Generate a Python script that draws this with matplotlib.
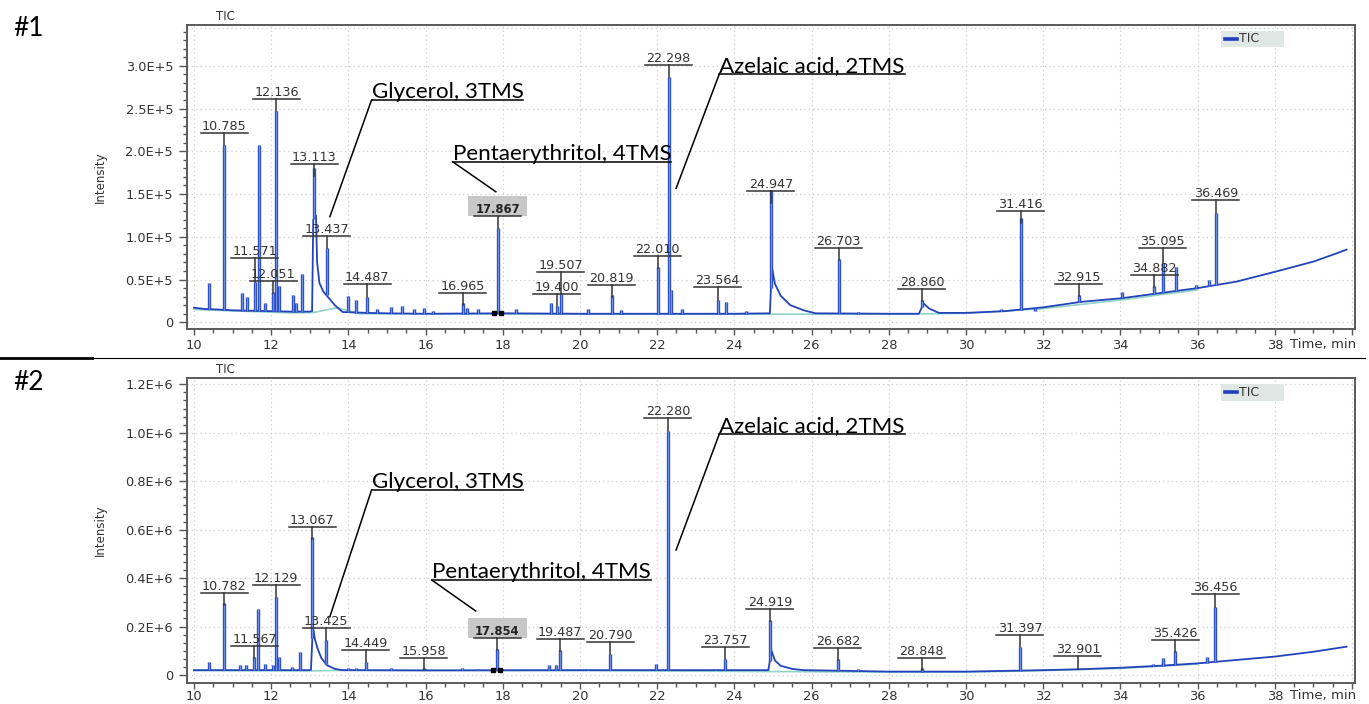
import numpy as np
import matplotlib
matplotlib.use("Agg")
import matplotlib.pyplot as plt
from matplotlib.ticker import MultipleLocator, FuncFormatter
from matplotlib.patches import Rectangle
from matplotlib.lines import Line2D

# ---------------- sample #1 ----------------
# background trace (incl. peak tails), time [min] / intensity
trace1_t = [10.0, 10.3, 10.6, 11.0, 11.5, 12.0, 12.5, 13.0, 13.06, 13.09, 13.16, 13.19,
            13.25, 13.35, 13.5, 13.65, 13.85, 14.5, 15.0, 16.0, 18.0, 20.0, 22.0, 24.0,
            24.92, 24.97, 25.05, 25.2, 25.45, 25.8, 26.1, 28.0, 28.78, 28.9, 29.05, 29.3,
            30.0, 31.0, 32.0, 33.0, 34.0, 35.0, 36.0, 37.0, 38.0, 39.0, 39.5, 39.86]
trace1_y = [17000, 15500, 15000, 14000, 13500, 13000, 12500, 12500, 13000, 120000, 125000, 70000,
            46000, 36000, 28000, 20000, 12000, 11000, 10500, 10000, 10500, 10000, 10000, 10000,
            10500, 65000, 45000, 31000, 20000, 14000, 10500, 10000, 10000, 22000, 16000, 11000,
            11000, 13000, 17500, 24000, 28000, 34000, 40000, 47500, 59000, 71000, 79000, 85000]
# integration baseline
base1_t = [10.0, 12.5, 13.1, 13.7, 14.3, 20.0, 28.0, 30.0, 32.0, 34.0, 36.0]
base1_y = [15000, 11000, 11500, 17000, 10000, 9500, 9500, 10500, 16000, 26000, 38000]
# peak apexes
peak1_t = [10.38, 10.785, 11.25, 11.38, 11.571, 11.69, 11.85, 12.051, 12.136, 12.21, 12.57,
           12.63, 12.79, 13.113, 13.437, 13.98, 14.2, 14.487, 14.75, 15.1, 15.4, 15.7, 15.95,
           16.2, 16.965, 17.07, 17.35, 17.867, 18.35, 19.25, 19.4, 19.507, 20.2, 20.819,
           21.05, 22.01, 22.298, 22.36, 22.65, 23.564, 23.78, 24.3, 24.947, 26.703, 27.2,
           28.86, 30.9, 31.416, 31.8, 32.915, 34.05, 34.5, 34.882, 35.095, 35.43, 35.95,
           36.3, 36.469]
peak1_h = [45500, 207000, 34000, 30000, 47000, 207000, 22000, 35000, 247000, 42000, 32000,
           22000, 57000, 180000, 87000, 31000, 26000, 30000, 16000, 18000, 19000, 16000, 17000,
           13000, 22000, 17000, 16000, 110000, 15000, 23000, 19000, 34000, 16000, 32000,
           14000, 65000, 287000, 38000, 15000, 26000, 24000, 13500, 155000, 74000, 12000,
           26000, 15000, 122000, 13500, 32000, 36000, 31000, 43000, 69000, 65000, 44000,
           50000, 128000]
label1_t = [10.785, 11.571, 12.051, 12.136, 13.113, 13.437, 14.487, 16.965, 17.867, 19.4,
            19.507, 20.819, 22.01, 22.298, 23.564, 24.947, 26.703, 28.86, 31.416, 32.915,
            34.882, 35.095, 36.469]
marks1_t = [17.77, 17.96]
hilite1 = 17.867
names1 = ["Glycerol, 3TMS", "Pentaerythritol, 4TMS", "Azelaic acid, 2TMS"]

# ---------------- sample #2 ----------------
trace2_t = [10.0, 11.0, 12.0, 13.0, 13.03, 13.08, 13.13, 13.2, 13.3, 13.45, 13.65, 13.85,
            16.0, 20.0, 22.0, 24.0, 24.88, 24.96, 25.05, 25.2, 25.5, 25.8, 27.0, 28.0,
            30.0, 31.0, 32.0, 33.0, 34.0, 35.0, 36.0, 37.0, 38.0, 39.0, 39.86]
trace2_y = [20000, 20000, 20000, 20000, 21000, 200000, 150000, 110000, 70000, 40000, 25000, 20000,
            19000, 20000, 20000, 20000, 20000, 100000, 60000, 38000, 25000, 20000, 17000, 14000,
            14000, 17000, 20000, 24000, 30000, 38000, 48000, 62000, 76000, 96000, 117000]
base2_t = [10.0, 13.0, 13.8, 20.0, 28.0, 30.0, 32.0, 34.0, 36.0]
base2_y = [18000, 17000, 19000, 18000, 12000, 12000, 18000, 27000, 45000]
peak2_t = [10.38, 10.782, 11.2, 11.35, 11.567, 11.67, 11.85, 12.05, 12.129, 12.2, 12.55,
           12.75, 13.067, 13.425, 13.98, 14.2, 14.449, 15.1, 15.958, 16.95, 17.35, 17.854,
           18.35, 19.2, 19.38, 19.487, 20.2, 20.79, 21.97, 22.28, 22.65, 23.5, 23.757,
           24.919, 26.682, 27.2, 28.848, 31.397, 32.901, 34.05, 34.85, 35.1, 35.426, 36.25,
           36.456]
peak2_h = [55000, 296000, 40000, 40000, 75000, 272000, 45000, 40000, 320000, 75000, 35000,
           96000, 570000, 144000, 30000, 30000, 52000, 30000, 27000, 28000, 26000, 106000,
           22000, 43000, 40000, 103000, 25000, 87000, 45000, 1007000, 22000, 25000, 66000,
           227000, 66000, 25000, 28000, 117000, 25000, 35000, 44000, 71000, 99000, 75000,
           280000]
label2_t = [10.782, 11.567, 12.129, 13.067, 13.425, 14.449, 15.958, 17.854, 19.487, 20.79,
            22.28, 23.757, 24.919, 26.682, 28.848, 31.397, 32.901, 35.426, 36.456]
marks2_t = [17.75, 17.93]
hilite2 = 17.854
names2 = ["Glycerol, 3TMS", "Pentaerythritol, 4TMS", "Azelaic acid, 2TMS"]

# ---------------- layout (label bar heights, callouts) ----------------
label1_y = [2.21e5, 0.749e5, 0.483e5, 2.612e5, 1.851e5, 1.009e5, 0.444e5, 0.339e5, 1.243e5,
            0.327e5, 0.585e5, 0.436e5, 0.779e5, 3.009e5, 0.417e5, 1.539e5, 0.873e5, 0.389e5,
            1.302e5, 0.444e5, 0.553e5, 0.873e5, 1.427e5]
label2_y = [0.3397e6, 0.1209e6, 0.3715e6, 0.6122e6, 0.1928e6, 0.1020e6, 0.0714e6, 0.1540e6,
            0.1474e6, 0.1350e6, 1.0621e6, 0.1143e6, 0.2724e6, 0.1102e6, 0.0714e6, 0.1651e6,
            0.0797e6, 0.1445e6, 0.3331e6]
# (underline-left x, y, leader end x, y)
callout1 = [(14.60, 2.600e5, 13.52, 1.235e5), (16.70, 1.878e5, 17.82, 1.527e5),
            (23.61, 2.904e5, 22.49, 1.567e5)]
callout2 = [(14.60, 0.7637e6, 13.52, 0.2407e6), (16.16, 0.392e6, 17.30, 0.264e6),
            (23.61, 0.995e6, 22.49, 0.516e6)]

DARK = "#2343bb"
LIGHT = "#6f90e4"
TXT = "#333333"
W, H = 1369, 704

fig = plt.figure(figsize=(W / 100, H / 100), dpi=100)
ax1 = fig.add_axes([187 / W, 1 - 329 / H, 1168 / W, 304 / H])
ax2 = fig.add_axes([187 / W, 1 - 682.7 / H, 1168 / W, 304.4 / H])
ax1.set_ylim(-7836, 347719)
ax2.set_ylim(-31785, 1224768)


def fmt5(v, pos):
    return "0" if abs(v) < 1 else f"{v / 1e5:.1f}E+5"


def fmt6(v, pos):
    return "0" if abs(v) < 1 else f"{v / 1e6:.1f}E+6"


def xfmt(v, pos):
    return "" if v > 39 else f"{v:.0f}"


def setup(ax, ymaj, ymin, yfmt, xpad):
    ax.set_xlim(9.819, 40.078)
    ax.xaxis.set_major_locator(MultipleLocator(2))
    ax.xaxis.set_minor_locator(MultipleLocator(0.5))
    ax.xaxis.set_major_formatter(FuncFormatter(xfmt))
    ax.yaxis.set_major_locator(MultipleLocator(ymaj))
    ax.yaxis.set_minor_locator(MultipleLocator(ymin))
    ax.yaxis.set_major_formatter(FuncFormatter(yfmt))
    ax.tick_params(axis="x", which="major", length=4.5, width=1, pad=xpad, labelsize=9.4,
                   colors="#555555", labelcolor=TXT)
    ax.tick_params(axis="x", which="minor", length=3, width=1, colors="#555555")
    ax.tick_params(axis="y", which="major", length=6, width=1, pad=4, labelsize=9.3,
                   colors="#555555", labelcolor=TXT)
    ax.tick_params(axis="y", which="minor", length=3, width=1, colors="#555555")
    ax.grid(True, which="major", color="#cfcfcf", ls=(0, (1, 2.5)), lw=0.9)
    for s in ax.spines.values():
        s.set_color("#5a5a5a")
        s.set_linewidth(1.4)
    ax.set_axisbelow(True)


def px(ax):
    pos = ax.get_position()
    x0, x1 = ax.get_xlim()
    y0, y1 = ax.get_ylim()
    return (x1 - x0) / (pos.width * W), (y1 - y0) / (pos.height * H)


def draw_panel(ax, tr_t, tr_y, bl_t, bl_y, pk_t, pk_h, lb_t, lb_y, mk_t, hl):
    ax.plot(bl_t, bl_y, color="#8fd3c9", lw=1.2, zorder=2)
    ax.plot(tr_t, tr_y, color=DARK, lw=1.3, zorder=3)
    foot = np.interp(pk_t, tr_t, tr_y)
    ax.vlines(pk_t, foot, pk_h, color=DARK, lw=2.4, zorder=3)
    ax.vlines(pk_t, foot, pk_h, color=LIGHT, lw=1.0, zorder=3)
    ax.plot(mk_t, np.interp(mk_t, tr_t, tr_y), "s", color="black", ms=3.5, zorder=4)
    dx, dy = px(ax)
    for t, yb in zip(lb_t, lb_y):
        apex = pk_h[pk_t.index(t)]
        bold = t == hl
        if bold:
            ax.add_patch(Rectangle((t - 29.3 * dx, yb), 58.7 * dx, 20 * dy,
                                   fc="#c8c8c8", ec="none", zorder=5))
        ax.plot([t - 23.5 * dx, t + 23.5 * dx], [yb, yb], color=TXT, lw=1.1, zorder=6)
        ax.plot([t, t], [yb, min(apex, yb - 12 * dy)], color=TXT, lw=1.1, zorder=6)
        ax.text(t, yb + 3 * dy, f"{t:.3f}", ha="center", va="baseline",
                fontsize=8.4 if bold else 9.2, fontweight="bold" if bold else "normal",
                color="#222222" if bold else TXT, zorder=7)


def draw_callouts(ax, names, callouts):
    dx, dy = px(ax)
    r = fig.canvas.get_renderer()
    for name, (x, y, ex, ey) in zip(names, callouts):
        t = ax.text(x, y + 2 * dy, name, ha="left", va="baseline", fontsize=16.1,
                    family="Lato", color="black", zorder=8)
        wpx = t.get_window_extent(r).width
        ax.plot([x, x + wpx * dx], [y, y], color="black", lw=1.1, zorder=8)
        ax.plot([x, ex], [y, ey], color="black", lw=1.1, zorder=8)


def legend(ax):
    ax.add_patch(Rectangle((0.885, 0.9266), 0.0545, 0.0534, transform=ax.transAxes,
                           fc="#dfe8e4", ec="none", zorder=5))
    ax.plot([0.8887, 0.8987], [0.954, 0.954], transform=ax.transAxes, color="#1f3fbf",
            lw=2.6, zorder=6)
    ax.text(0.9003, 0.954, "TIC", transform=ax.transAxes, fontsize=9, color=TXT,
            va="center", ha="left", zorder=6)


setup(ax1, 0.5e5, 1e4, fmt5, 3)
setup(ax2, 0.2e6, 0.2e6 / 6, fmt6, 0.5)
ax1.plot([0, 1], [0.99, 0.99], transform=ax1.transAxes, color="#cfcfcf",
         ls=(0, (1, 2.5)), lw=0.9)

draw_panel(ax1, trace1_t, trace1_y, base1_t, base1_y, peak1_t, peak1_h,
           label1_t, label1_y, marks1_t, hilite1)
draw_panel(ax2, trace2_t, trace2_y, base2_t, base2_y, peak2_t, peak2_h,
           label2_t, label2_y, marks2_t, hilite2)
draw_callouts(ax1, names1, callout1)
draw_callouts(ax2, names2, callout2)
legend(ax1)
legend(ax2)

for yc_tic, yc_int, yc_time, yc_num, tag in [(16, 177, 345, 28, "#1"),
                                              (370, 530, 695, 382, "#2")]:
    fig.text(225 / W, 1 - yc_tic / H, "TIC", fontsize=8.5, color=TXT, ha="center", va="center")
    fig.text(100 / W, 1 - yc_int / H, "Intensity", fontsize=8.5, color=TXT, rotation=90,
             ha="center", va="center")
    fig.text(1290 / W, 1 - yc_time / H, "Time, min", fontsize=9.5, color=TXT,
             ha="left", va="center")
    fig.text(13 / W, 1 - yc_num / H, tag, fontsize=19, family="Lato", color="black",
             ha="left", va="center")

ysep = 1 - 358.3 / H
fig.add_artist(Line2D([0, 92 / W], [ysep, ysep], color="black", lw=2.0))
fig.add_artist(Line2D([92 / W, 1365 / W], [ysep, ysep], color="black", lw=0.8))

fig.savefig("out.png", dpi=100)
